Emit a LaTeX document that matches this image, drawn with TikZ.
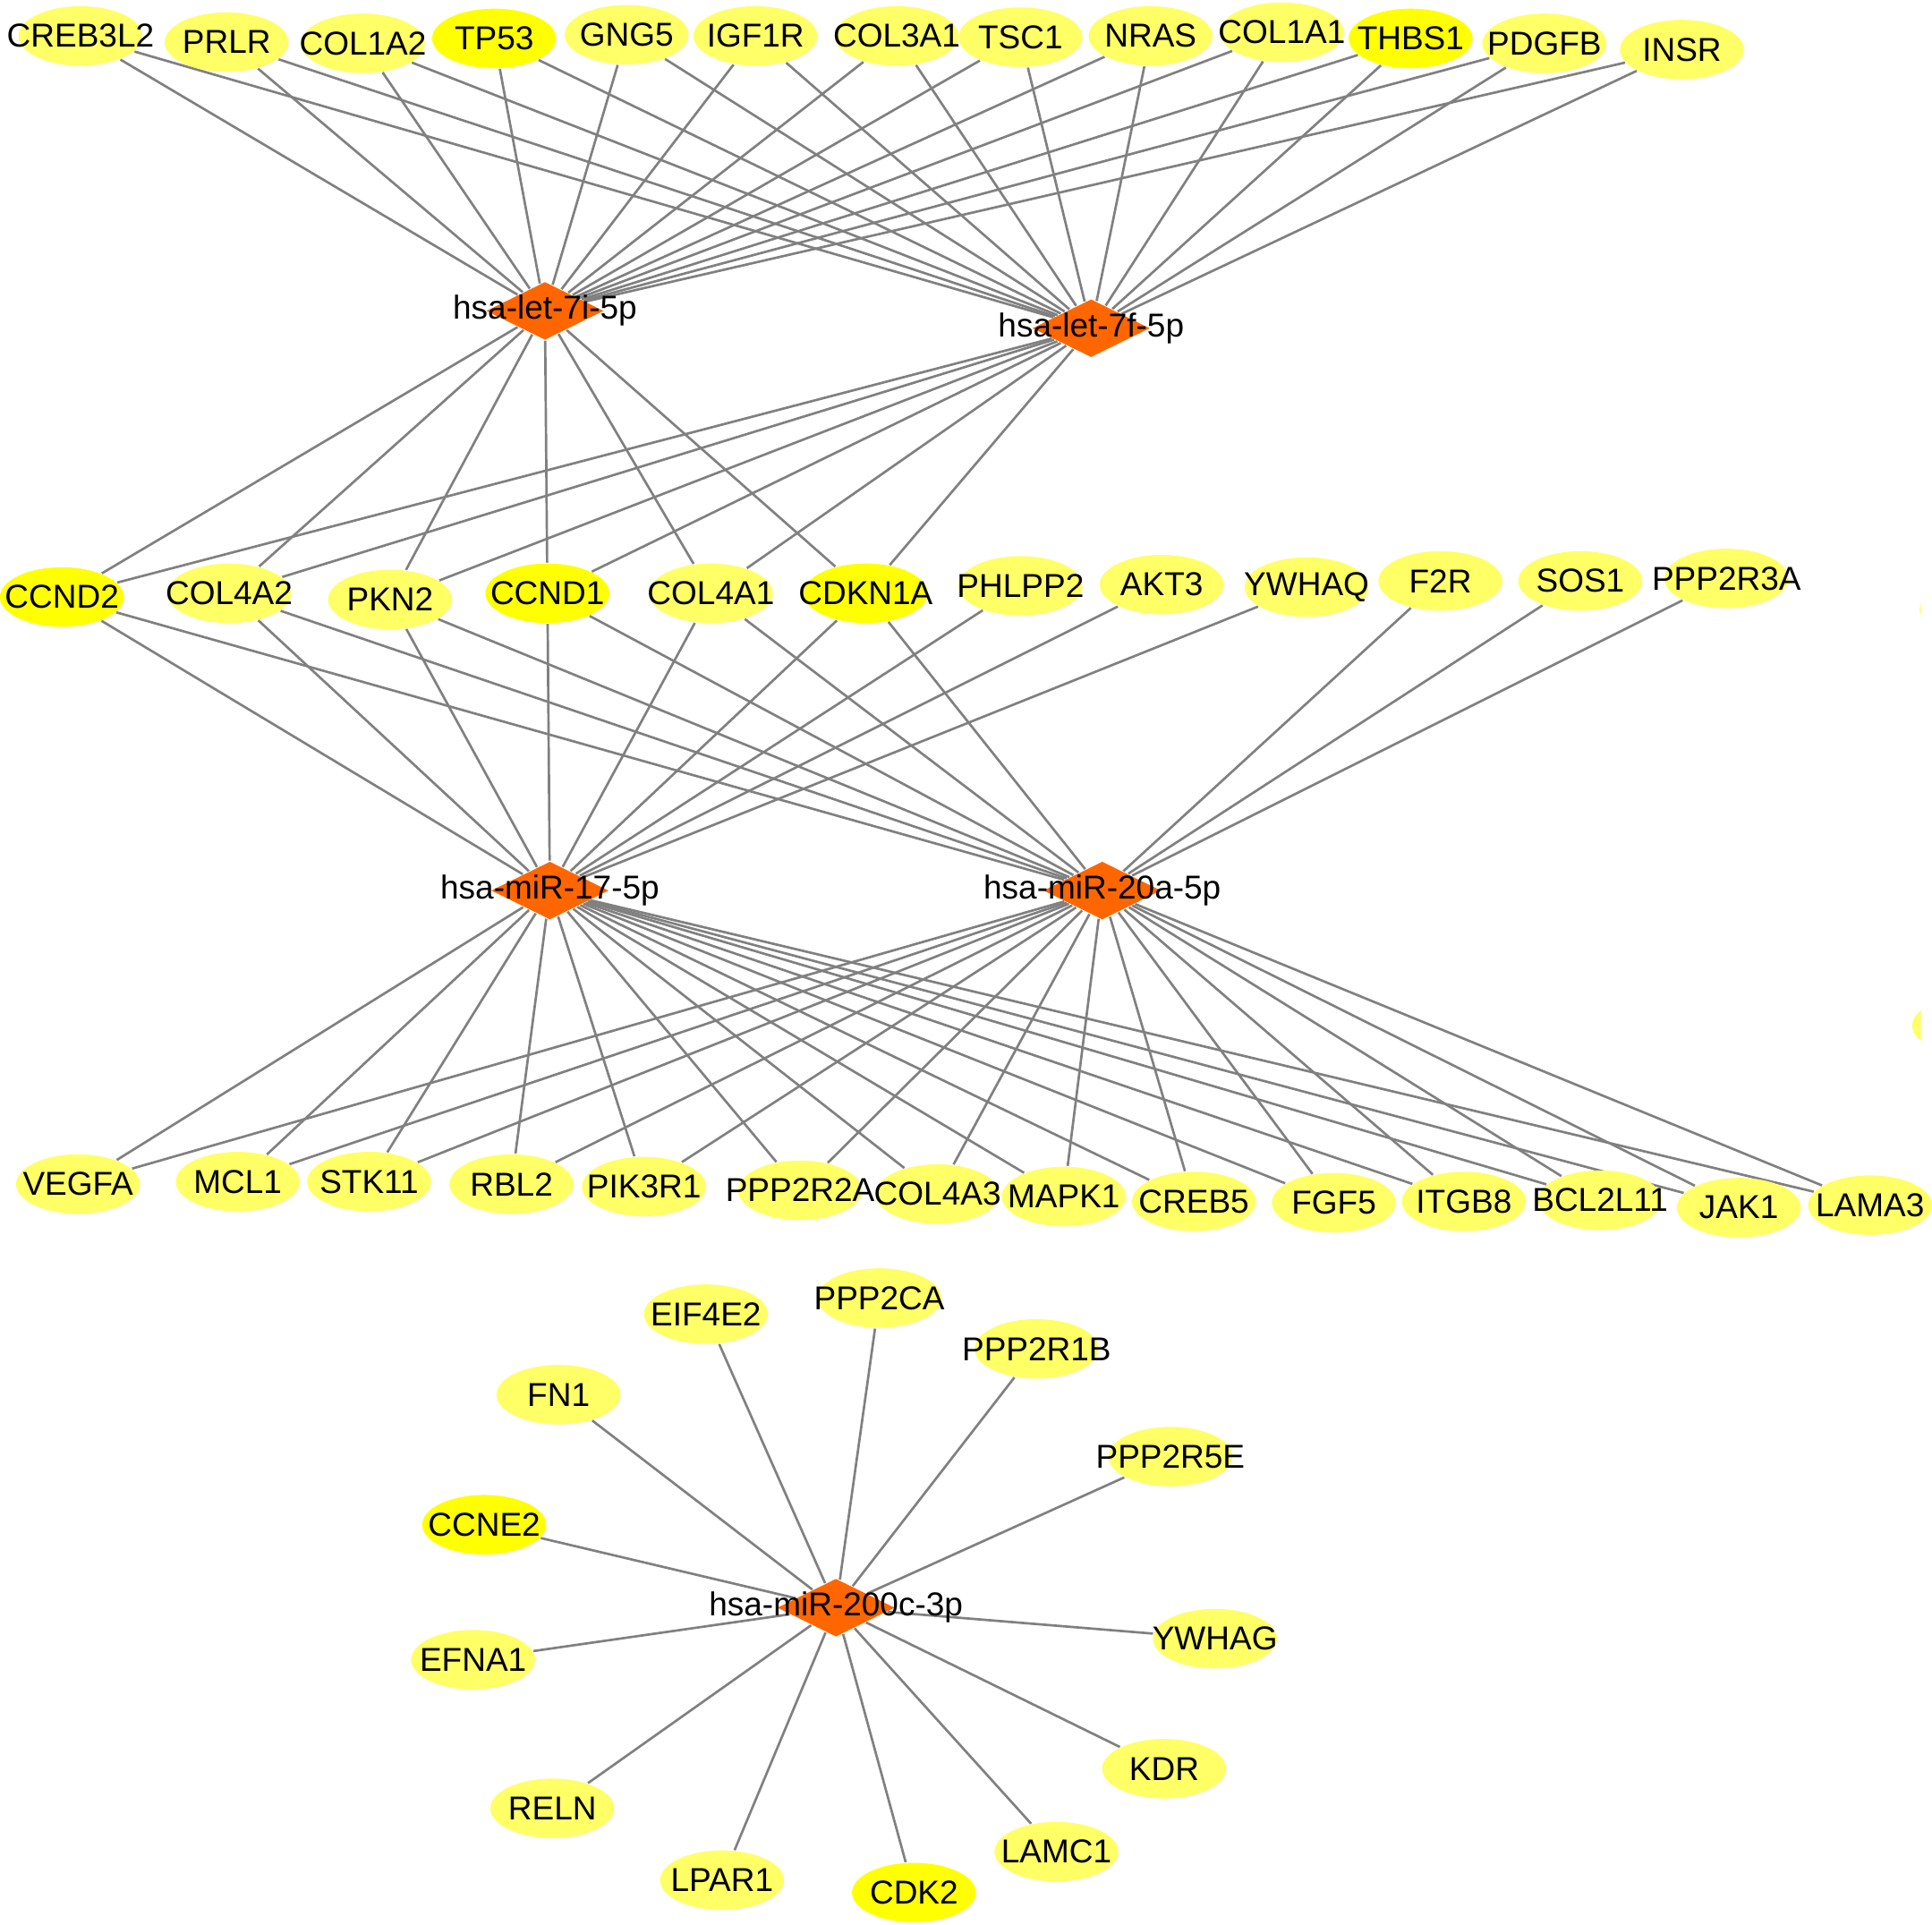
\documentclass[tikz,border=0pt]{standalone}
\usepackage{fontspec}
\setmainfont{Liberation Sans}
\usetikzlibrary{shapes.geometric}
\definecolor{genelight}{RGB}{255,255,102}
\definecolor{genebright}{RGB}{255,255,0}
\definecolor{mirorange}{RGB}{255,102,0}
\definecolor{edgegray}{RGB}{128,128,128}
\pgfdeclarelayer{background}
\pgfsetlayers{background,main}
\tikzset{
  gene/.style={ellipse, fill=genelight, minimum width=1.0cm, minimum height=0.48cm, inner sep=0pt, font=\fontsize{7.6}{9}\selectfont},
  hub/.style={gene, fill=genebright},
  mirna/.style={diamond, fill=mirorange, minimum width=0.95cm, minimum height=0.47cm, inner sep=0pt, font=\fontsize{7.6}{9}\selectfont},
  link/.style={draw=edgegray, line width=0.55pt},
}
\newcommand{\lbl}[1]{\makebox[0pt]{#1}}

\begin{document}
\begin{tikzpicture}[x=0.01cm, y=-0.01cm]
          \useasboundingbox (0,0) rectangle (1560,1553.5);
          % top row
          \node[gene] (creb3l2) at (65, 29) {\lbl{CREB3L2}};
          \node[gene] (prlr) at (183, 34) {\lbl{PRLR}};
          \node[gene] (col1a2) at (293, 35) {\lbl{COL1A2}};
          \node[hub] (tp53) at (399, 31) {\lbl{TP53}};
          \node[gene] (gng5) at (506, 28) {\lbl{GNG5}};
          \node[gene] (igf1r) at (610, 29) {\lbl{IGF1R}};
          \node[gene] (col3a1) at (724, 29) {\lbl{COL3A1}};
          \node[gene] (tsc1) at (824, 30) {\lbl{TSC1}};
          \node[gene] (nras) at (929, 29) {\lbl{NRAS}};
          \node[gene] (col1a1) at (1035, 26) {\lbl{COL1A1}};
          \node[hub] (thbs1) at (1139, 31) {\lbl{THBS1}};
          \node[gene] (pdgfb) at (1247, 35) {\lbl{PDGFB}};
          \node[gene] (insr) at (1358, 40) {\lbl{INSR}};
          %
          \node[mirna] (let7i) at (440, 251) {\lbl{hsa-let-7i-5p}};
          \node[mirna] (let7f) at (881, 265) {\lbl{hsa-let-7f-5p}};
          % middle row
          \node[hub] (ccnd2) at (50, 482) {\lbl{CCND2}};
          \node[gene] (col4a2) at (185, 479) {\lbl{COL4A2}};
          \node[gene] (pkn2) at (315, 484) {\lbl{PKN2}};
          \node[hub] (ccnd1) at (442, 479) {\lbl{CCND1}};
          \node[gene] (col4a1) at (574, 479) {\lbl{COL4A1}};
          \node[hub] (cdkn1a) at (699, 479) {\lbl{CDKN1A}};
          \node[gene] (phlpp2) at (824, 473) {\lbl{PHLPP2}};
          \node[gene] (akt3) at (938, 472) {\lbl{AKT3}};
          \node[gene] (ywhaq) at (1055, 474) {\lbl{YWHAQ}};
          \node[gene] (f2r) at (1163, 469) {\lbl{F2R}};
          \node[gene] (sos1) at (1276, 469) {\lbl{SOS1}};
          \node[gene] (ppp2r3a) at (1394, 467) {\lbl{PPP2R3A}};
          %
          \node[mirna] (mir17) at (444, 719) {\lbl{hsa-miR-17-5p}};
          \node[mirna] (mir20a) at (890, 719) {\lbl{hsa-miR-20a-5p}};
          % bottom row
          \node[gene] (vegfa) at (63, 956) {\lbl{VEGFA}};
          \node[gene] (mcl1) at (192, 954) {\lbl{MCL1}};
          \node[gene] (stk11) at (298, 954) {\lbl{STK11}};
          \node[gene] (rbl2) at (413, 956) {\lbl{RBL2}};
          \node[gene] (pik3r1) at (520, 958) {\lbl{PIK3R1}};
          \node[gene] (ppp2r2a) at (646, 961) {\lbl{PPP2R2A}};
          \node[gene] (col4a3) at (757, 964) {\lbl{COL4A3}};
          \node[gene] (mapk1) at (859, 966) {\lbl{MAPK1}};
          \node[gene] (creb5) at (964, 970) {\lbl{CREB5}};
          \node[gene] (fgf5) at (1077, 971) {\lbl{FGF5}};
          \node[gene] (itgb8) at (1182, 970) {\lbl{ITGB8}};
          \node[gene] (bcl2l11) at (1292, 969) {\lbl{BCL2L11}};
          \node[gene] (jak1) at (1404, 975) {\lbl{JAK1}};
          \node[gene] (lama3) at (1510, 973) {\lbl{LAMA3}};
          % star cluster
          \node[mirna] (mir200c) at (675, 1298) {\lbl{hsa-miR-200c-3p}};
          \node[gene] (eif4e2) at (570, 1061) {\lbl{EIF4E2}};
          \node[gene] (ppp2ca) at (710, 1048) {\lbl{PPP2CA}};
          \node[gene] (ppp2r1b) at (837, 1089) {\lbl{PPP2R1B}};
          \node[gene] (fn1) at (451, 1126) {\lbl{FN1}};
          \node[gene] (ppp2r5e) at (945, 1176) {\lbl{PPP2R5E}};
          \node[hub] (ccne2) at (391, 1231) {\lbl{CCNE2}};
          \node[gene] (ywhag) at (981, 1323) {\lbl{YWHAG}};
          \node[gene] (efna1) at (382, 1340) {\lbl{EFNA1}};
          \node[gene] (kdr) at (940, 1428) {\lbl{KDR}};
          \node[gene] (reln) at (446, 1460) {\lbl{RELN}};
          \node[gene] (lamc1) at (853, 1495) {\lbl{LAMC1}};
          \node[gene] (lpar1) at (583, 1518) {\lbl{LPAR1}};
          \node[hub] (cdk2) at (738, 1528) {\lbl{CDK2}};
          % cut nodes at the right edge
          \begin{scope}
            \clip (1500,400) rectangle (1551,900);
            \fill[genelight] (1600,492) ellipse (0.5cm and 0.24cm);
            \fill[genelight] (1594,828) ellipse (0.5cm and 0.24cm);
          \end{scope}
          %
          \begin{pgfonlayer}{background}
            \foreach \g in {creb3l2,prlr,col1a2,tp53,gng5,igf1r,col3a1,tsc1,nras,col1a1,thbs1,pdgfb,insr} {
              \draw[link] (\g) -- (let7i);
              \draw[link] (\g) -- (let7f);
            }
            \foreach \g in {ccnd2,col4a2,pkn2,ccnd1,col4a1,cdkn1a} {
              \draw[link] (let7i) -- (\g);
              \draw[link] (let7f) -- (\g);
              \draw[link] (\g) -- (mir17);
              \draw[link] (\g) -- (mir20a);
            }
            \foreach \g in {phlpp2,akt3,ywhaq} \draw[link] (\g) -- (mir17);
            \foreach \g in {f2r,sos1,ppp2r3a} \draw[link] (\g) -- (mir20a);
            \foreach \g in {vegfa,mcl1,stk11,rbl2,pik3r1,ppp2r2a,col4a3,mapk1,creb5,fgf5,itgb8,bcl2l11,jak1,lama3} {
              \draw[link] (mir17) -- (\g);
              \draw[link] (mir20a) -- (\g);
            }
            \foreach \g in {eif4e2,ppp2ca,ppp2r1b,fn1,ppp2r5e,ccne2,ywhag,efna1,kdr,reln,lamc1,lpar1,cdk2}
              \draw[link] (mir200c) -- (\g);
          \end{pgfonlayer}
        \end{tikzpicture}
\end{document}
